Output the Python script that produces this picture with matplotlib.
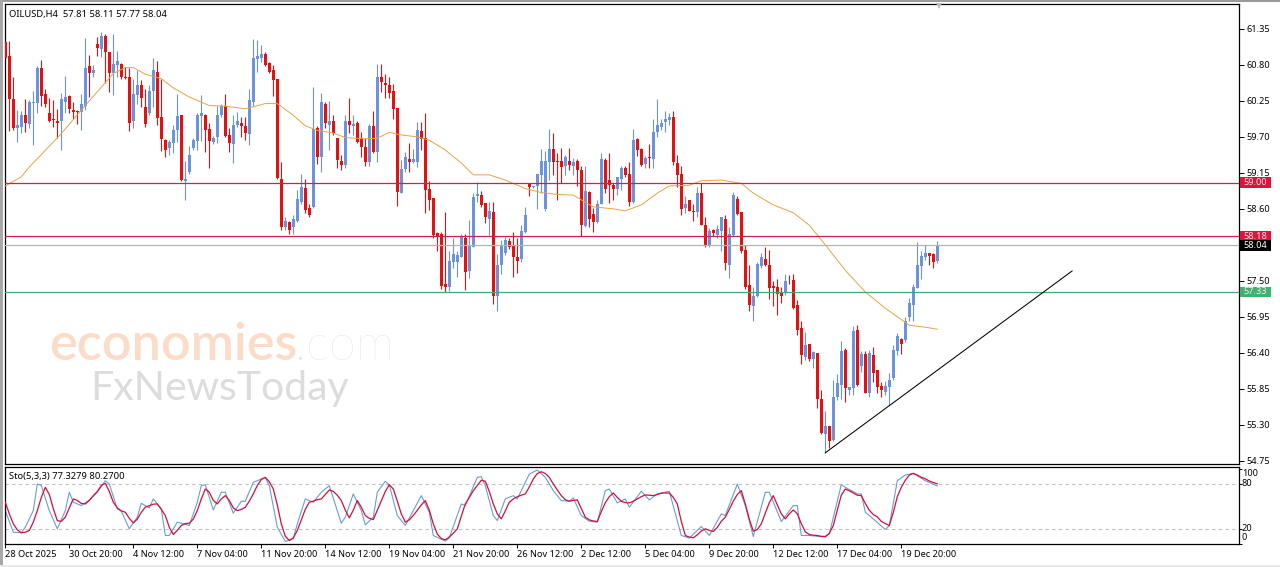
import numpy as np
import matplotlib
matplotlib.use("Agg")
import matplotlib.pyplot as plt
from matplotlib.patches import Rectangle
from matplotlib.transforms import blended_transform_factory

W, H = 1280, 567

# R = down candle, B = up candle
dirs = ("RRRBBRBBBR" "RRRRBBRRRB" "BRBRBRRBBR" "RRBBRRBBRR" "RBBBRBBBBB" "RRBBBRRBBR"
        "RBBBBRRRRR" "BRBBBRRBRB" "RBRRRBRBRR" "RBRBRRRRRB" "BRBBRRRRRR" "RBBBBRBBBR"
        "RBRBBBRRRB" "BRBBBBBRRR" "BRBRRBRRBB" "RRRBBRRBRR" "BRBBBBBRRR" "BRRBRRBRBB"
        "RBBRRRRBBB" "RRRRRBRRRR" "BRBRRBRBBB" "RBBRBRBRRR" "BBBBRBBBBB" "BRRB")

highs = [61.18,61.17,60.61,60.11,60.10,60.28,60.26,60.40,60.79,60.87,
         60.44,60.30,60.26,60.13,60.37,60.63,60.34,60.24,60.11,60.36,
         61.21,60.95,60.80,61.23,61.30,61.28,61.00,61.28,61.01,60.83,
         60.77,60.75,60.59,60.73,60.57,60.44,60.49,60.90,60.86,60.59,
         59.67,59.65,59.88,60.35,60.04,59.33,59.56,59.69,60.07,60.34,
         60.05,59.91,59.72,60.18,60.21,60.35,59.83,60.03,60.08,60.00,
         60.01,60.43,61.20,61.18,61.10,61.00,60.85,60.80,60.59,59.32,
         58.48,58.42,58.50,58.89,59.13,59.06,58.68,60.47,59.87,60.37,
         60.23,60.25,60.03,59.68,59.42,60.04,60.29,60.03,59.94,59.78,
         59.68,59.90,60.09,60.82,60.82,60.66,60.62,60.51,60.14,59.35,
         59.47,59.60,59.51,59.93,59.93,60.06,59.02,58.76,58.24,58.25,
         58.55,57.95,58.15,57.95,58.21,58.22,58.43,58.84,59.01,58.87,
         58.69,58.70,58.70,57.91,58.12,58.17,58.15,58.24,58.15,58.35,
         58.63,58.98,58.95,59.14,59.51,59.48,59.82,59.76,59.45,59.53,
         59.43,59.53,59.37,59.36,59.26,59.26,58.88,58.61,58.73,59.45,
         59.37,59.45,58.99,59.09,59.25,59.25,59.32,59.82,59.69,59.53,
         59.41,59.59,59.98,60.28,59.98,60.10,60.06,60.09,59.42,59.25,
         58.80,58.73,58.68,58.94,58.99,58.47,58.30,58.29,58.35,58.48,
         58.50,58.33,58.86,58.79,58.55,58.04,57.74,57.41,57.78,57.93,
         58.01,57.97,57.50,57.52,57.41,57.60,57.59,57.60,57.21,56.88,
         56.72,56.53,56.42,56.40,55.83,55.51,55.28,55.98,56.07,56.58,
         56.47,55.88,56.81,56.83,56.43,56.42,56.44,56.49,56.13,55.96,
         55.97,56.09,56.52,56.70,56.62,56.95,57.23,57.45,58.09,57.95,
         58.05,57.93,57.92,58.11]

tops = [61.15,60.93,60.28,59.88,60.03,60.03,60.23,60.24,60.75,60.75,
        60.35,60.06,59.97,59.95,60.28,60.31,60.33,60.11,60.10,60.21,
        60.76,60.78,60.72,61.12,61.24,61.25,61.00,60.82,60.86,60.81,
        60.62,60.61,60.35,60.49,60.49,60.16,60.40,60.72,60.70,60.00,
        59.66,59.62,59.80,60.02,60.04,59.06,59.42,59.65,60.03,60.07,
        60.04,59.82,59.69,60.04,60.17,60.17,59.73,59.88,59.94,59.91,
        59.86,60.26,60.91,60.93,60.97,60.97,60.83,60.72,60.58,59.06,
        58.42,58.40,58.44,58.75,58.93,58.92,58.61,59.82,59.83,60.23,
        60.21,59.94,59.94,59.68,59.33,59.94,59.94,59.89,59.92,59.68,
        59.55,59.87,59.86,60.61,60.61,60.53,60.49,60.40,60.14,59.21,
        59.39,59.36,59.36,59.81,59.79,59.69,58.90,58.76,58.23,58.22,
        57.45,57.80,57.91,57.89,58.19,58.16,58.04,58.78,58.83,58.81,
        58.69,58.57,58.55,57.74,58.05,58.12,58.11,58.04,57.87,58.26,
        58.50,58.98,58.95,59.14,59.33,59.33,59.52,59.52,59.33,59.33,
        59.39,59.33,59.32,59.33,59.19,58.87,58.86,58.52,58.68,59.36,
        59.35,59.04,58.97,59.09,59.23,59.23,59.14,59.65,59.67,59.51,
        59.37,59.39,59.77,59.88,59.92,59.97,60.00,60.00,59.30,59.13,
        58.67,58.73,58.57,58.85,58.84,58.35,58.26,58.28,58.29,58.47,
        58.44,58.22,58.81,58.75,58.55,57.97,57.44,57.27,57.76,57.87,
        57.84,57.74,57.42,57.41,57.31,57.50,57.51,57.51,57.13,56.78,
        56.52,56.53,56.41,56.40,55.69,55.28,55.28,55.72,55.93,56.43,
        56.44,55.87,56.73,56.75,56.38,56.38,56.39,56.37,56.13,55.89,
        55.89,55.99,56.44,56.65,56.61,56.89,57.16,57.41,57.74,57.88,
        57.92,57.92,57.91,58.04]

bottoms = [60.90,60.28,59.84,59.83,59.85,59.91,59.89,60.22,60.22,60.32,
           60.21,59.94,59.96,59.92,59.94,60.24,60.12,60.08,60.08,60.08,
           60.18,60.68,60.68,61.06,61.04,61.00,60.68,60.68,60.80,60.61,
           60.60,59.92,59.94,60.34,60.29,59.90,60.06,60.40,59.99,59.67,
           59.50,59.53,59.61,59.80,59.04,59.02,59.17,59.53,59.63,60.02,
           59.80,59.64,59.62,59.70,60.03,59.71,59.61,59.59,59.88,59.86,
           59.76,59.75,60.24,60.89,60.91,60.80,60.70,60.57,59.07,58.32,
           58.32,58.27,58.32,58.42,58.71,58.58,58.50,58.63,59.39,59.40,
           59.91,59.88,59.76,59.34,59.27,59.27,59.88,59.87,59.62,59.54,
           59.32,59.31,59.47,59.47,60.54,60.49,60.37,60.13,58.86,58.85,
           59.21,59.32,59.32,59.32,59.67,58.89,58.73,58.20,58.18,57.42,
           57.40,57.40,57.79,57.79,57.87,57.64,57.65,58.02,58.79,58.66,
           58.47,58.45,57.26,57.27,57.74,57.93,58.01,57.87,57.80,57.83,
           58.24,58.94,58.93,58.95,59.12,58.60,59.32,59.32,59.31,59.24,
           59.26,59.27,59.26,59.19,58.35,58.34,58.45,58.40,58.40,58.68,
           58.90,58.96,58.91,58.90,59.06,59.12,58.71,58.70,59.50,59.27,
           59.29,59.37,59.36,59.77,59.85,59.93,59.96,59.31,59.12,58.60,
           58.61,58.57,58.55,58.55,58.36,58.05,58.04,58.23,58.20,58.26,
           57.77,57.74,58.20,58.52,57.96,57.41,57.13,57.12,57.27,57.72,
           57.74,57.39,57.39,57.30,57.27,57.31,57.51,57.09,56.75,56.36,
           56.34,56.30,56.31,55.69,55.17,55.16,55.05,55.06,55.72,55.91,
           55.86,55.83,55.86,55.91,56.20,55.79,55.79,56.09,55.87,55.83,
           55.80,55.87,56.01,56.43,56.53,56.60,56.95,57.13,57.39,57.72,
           57.87,57.88,57.79,57.81]

lows = [60.88,59.79,59.81,59.62,59.76,59.78,59.84,59.57,60.07,60.18,
        60.15,59.93,59.85,59.69,59.50,60.06,60.06,59.98,59.89,59.81,
        60.11,60.31,60.61,60.93,60.92,60.53,60.39,60.34,60.62,60.59,
        60.58,59.79,59.83,60.20,60.16,59.85,60.03,60.16,59.88,59.49,
        59.39,59.43,59.45,59.62,59.03,58.73,59.14,59.50,59.50,59.64,
        59.47,59.22,59.59,59.60,60.01,59.70,59.47,59.30,59.85,59.70,
        59.65,59.57,60.18,60.69,60.85,60.79,60.68,60.32,59.05,58.27,
        58.27,58.22,58.22,58.40,58.68,58.53,58.47,58.62,59.29,59.17,
        59.83,59.50,59.73,59.22,59.20,59.22,59.76,59.73,59.60,59.40,
        59.26,59.25,59.45,59.32,60.39,60.29,60.29,59.98,58.65,58.84,
        59.17,59.17,59.30,59.24,59.50,58.54,58.59,58.15,57.96,57.38,
        57.33,57.34,57.69,57.56,57.86,57.36,57.54,58.01,58.70,58.63,
        58.38,58.20,57.14,57.04,57.61,57.89,57.99,57.56,57.62,57.78,
        58.23,58.80,58.92,58.60,58.85,58.57,59.04,59.12,58.73,59.00,
        59.12,59.19,59.12,58.95,58.19,58.33,58.33,58.24,58.38,58.68,
        58.84,58.69,58.73,58.81,58.89,59.09,58.64,58.69,59.41,59.25,
        59.23,59.23,59.22,59.70,59.81,59.77,59.88,59.27,58.94,58.50,
        58.54,58.56,58.42,58.47,58.35,58.01,58.01,58.19,58.15,57.95,
        57.66,57.54,58.18,58.50,57.93,57.37,57.04,56.89,57.25,57.69,
        57.72,57.22,57.11,56.98,57.16,57.28,57.45,57.07,56.67,56.23,
        56.29,56.28,56.17,55.55,55.16,54.87,54.95,55.05,55.68,55.70,
        55.64,55.75,55.75,55.89,56.11,55.78,55.72,55.96,55.79,55.73,
        55.75,55.60,55.98,56.37,56.38,56.57,56.88,56.88,57.39,57.53,
        57.82,57.74,57.70,57.77]

# moving average, read at these bars
ma_bars = [0,4,6,9,14,19,24,27,30,32,35,39,42,46,51,55,60,62,65,68,72,75,78,
           82,85,90,93,96,99,103,106,110,114,117,121,125,130,134,138,142,147,152,155,159,
           163,166,171,174,179,184,187,192,197,201,205,210,215,220,226,230,233]
ma_vals = [58.95,59.09,59.24,59.43,59.75,60.11,60.46,60.67,60.76,60.76,60.66,60.59,60.45,60.31,60.18,60.17,60.13,60.16,60.21,60.21,60.03,59.87,59.80,
           59.76,59.69,59.67,59.68,59.77,59.73,59.70,59.65,59.50,59.30,59.12,59.12,59.04,58.91,58.85,58.82,58.81,58.63,58.60,58.57,58.66,
           58.84,58.95,58.96,59.03,59.04,58.99,58.84,58.66,58.54,58.35,58.05,57.66,57.33,57.08,56.82,56.79,56.76]

# stochastic %K
k_bars = [0,2,4,5,7,8,9,11,13,15,16,17,19,21,23,25,26,28,29,31,33,34,36,37,39,40,41,43,46,48,49,50,52,54,55,57,59,60,62,65,66,68,70,72,73,75,77,79,81,84,85,87,89,90,92,93,95,96,98,100,104,106,107,110,111,114,115,118,
          119,120,122,123,125,127,128,131,133,135,137,139,141,142,144,146,148,150,151,153,155,156,159,161,163,166,169,171,174,176,179,180,183,185,187,190,191,194,197,198,199,201,205,206,209,210,213,214,215,217,220,221,223,225,227,230,233]
k_vals = [44.4,15.5,14.7,22.2,44.4,80,77.8,44.4,20,44.4,68.9,55.6,51.1,58.7,68.9,84.4,80,46.7,43.6,20,35.6,54.2,48,60,46.7,11.1,11.1,28.9,24.4,55.6,77.8,79,45.3,68.9,68.9,40.9,56.9,56.9,82.2,88.9,77.8,22.2,3.1,6.7,26.7,60,55.6,68.9,77.8,27.5,35.6,66.7,44.4,25.3,35.6,68.9,83.6,79,37.8,24.4,64.4,42.2,11.1,3.5,8,53.3,51.1,88.9,
          89.8,77.8,37.8,31.1,60,64.4,60,93.3,98.7,88.9,71.1,57.8,56.9,61.3,37.8,30.2,28.9,71.1,73.3,54.7,60,48.9,70.2,58.7,66.7,70.2,11.1,7.6,23.1,11.1,40,37.8,80,51.1,9.8,68.9,68.9,29.8,51.1,51.1,11.1,11.1,8.9,13.3,79.1,75.6,66.7,66.7,42.2,33.3,19.1,24.4,84.4,92,94.2,84.4,77.33]

# stochastic %D, one value per bar
d_vals = [55.6,40,26.7,18.7,14.7,15.5,17.8,29,44.4,62,
          75.6,66,47,31,30,35.6,48,60,58,54,
          53.3,58,64.4,70,78,80.9,70,55.6,48,44,
          42.2,34,28,33,42,49,51,53,53.3,46,
          37.8,22,12.4,18,24.4,27,27.5,33,44.4,60,
          73.3,69,58,53.3,60,64.4,58,48,44.4,46,
          48.9,57,66.7,78,86,88.9,83,73.3,52,26.7,
          10,4.4,8,17.8,32,46,55.6,57,59,60,
          66,72,70,65,57.8,45,34.7,45,57.8,49,
          37.8,34,32.4,45,57.8,70,79,73.3,57,40,
          28.9,32,37.8,45,52,57.8,45,26.7,13,7,
          5.3,9,14,20,37,53.3,62,71,78,85,
          83.6,70,53.3,40,33.3,44,55.6,60,63,65,
          66.7,76,86.7,94,96.4,94,88.9,80,72,64.4,
          59,56.9,58,58.7,47,35.6,32,30.5,29.8,43,
          55,63,68,62,56.9,55,54.7,57,60,63,
          65.3,65,64.4,66,67.6,68,68,62,53.3,30,
          11.1,9,8,12,17,20,18,16.4,22,30,
          35.6,46,57,66,71.1,53.3,33,16.9,19,26.7,
          41,55,64.4,52,40,33.3,40,45.3,40,27,
          16,12.4,11.5,11,10,9.8,14,24.4,45,65,
          73.3,71,68,65,64.4,54,45,39.1,36,30,
          27,24.4,42,63,75.6,85,92,94.2,92,89,
          87,84,82,80.27]

price_ticks = [61.35,60.80,60.25,59.70,59.15,58.60,57.50,56.95,56.40,55.85,55.30,54.75]
date_ticks = list(range(0, 225, 16))
date_labels = ["28 Oct 2025","30 Oct 20:00","4 Nov 12:00","7 Nov 04:00","11 Nov 20:00",
               "14 Nov 12:00","19 Nov 04:00","21 Nov 20:00","26 Nov 12:00","2 Dec 12:00",
               "5 Dec 04:00","9 Dec 20:00","12 Dec 12:00","17 Dec 04:00","19 Dec 20:00"]
level_prices = [59.00, 58.18, 58.04, 57.33]
level_colors = ["#C8224E", "#C8224E", "#B4B4B4", "#3FA97A"]
badge_colors = ["#DC143C", "#DC143C", "#000000", "#3CB371"]
trend_bars = [205, 266.7]
trend_vals = [54.87, 57.65]
sto_levels = [20, 80]

plt.rcParams['font.family'] = ['Noto Sans', 'DejaVu Sans']
plt.rcParams['font.size'] = 6.6

BLUE = "#6C94DC"
RED = "#E01212"

fig = plt.figure(figsize=(W / 100, H / 100), dpi=100)
fig.patch.set_facecolor("white")


def px_axes(x0, y0, x1, y1):
    return fig.add_axes([x0 / W, 1 - y1 / H, (x1 - x0) / W, (y1 - y0) / H])


# window chrome
fig.add_artist(Rectangle((0, 1 - 2 / H), 1, 2 / H, transform=fig.transFigure, color="#9A9A9A", lw=0))
fig.add_artist(Rectangle((0, 0), 2.5 / W, 1, transform=fig.transFigure, color="#A8A8A8", lw=0))
fig.add_artist(Rectangle((0, 0), 1, 2 / H, transform=fig.transFigure, color="#E8E8E8", lw=0))

ax = px_axes(5, 4, 1238.5, 464.3)
sub = px_axes(5, 466.8, 1238.5, 544)

n = np.arange(len(dirs))
up = np.array([c == "B" for c in dirs])
highs, lows = np.array(highs), np.array(lows)
tops, bottoms = np.array(tops), np.array(bottoms)
colors = [BLUE if u else RED for u in up]

# watermark goes under the candles
fig.text(49 / W, 1 - 360 / H, "economies", color="#FBDCC8", fontsize=37.5, fontweight="semibold",
         family="Lato", va="baseline", ha="left", zorder=0)
fig.text(295 / W, 1 - 360 / H, ".com", color="#E4E4E4", fontsize=35, fontweight="light",
         family="Lato", va="baseline", ha="left", zorder=0)
fig.text(90 / W, 1 - 400 / H, "FxNewsToday", color="#DCDCDC", fontsize=29.5,
         family="Lato", va="baseline", ha="left", zorder=0)
ax.patch.set_alpha(0)
sub.patch.set_alpha(0)

ax.vlines(n, lows, highs, colors=colors, linewidth=0.8, zorder=2)
ax.bar(n, tops - bottoms, bottom=bottoms, width=0.82, color=colors, linewidth=0, zorder=3)
ax.plot(ma_bars, ma_vals, color="#E6A445", lw=0.7, zorder=4)

for p, c in zip(level_prices, level_colors):
    ax.axhline(p, color=c, lw=0.9, zorder=5)
ax.plot(trend_bars, trend_vals, color="black", lw=0.75, zorder=6)

x_left = (5 - 5.3) / 4
x_right = (1238.5 - 5.3) / 4
ax.set_xlim(x_left, x_right)
ax.set_ylim(61.35 - (464.3 - 29) / 65.4, 61.35 + 25 / 65.4)
ax.set_xticks([])
ax.yaxis.tick_right()
ax.set_yticks(price_ticks)
ax.set_yticklabels(["%.2f" % t for t in price_ticks])
ax.tick_params(axis="y", length=3.5, width=0.7, pad=2.5, labelsize=6.6)

# last-bar marker on the top edge
ax.plot([n[-1] + 0.5], [61.70], marker="v", ms=5, color="#BBBBBB", mew=0, clip_on=False, zorder=7)

ax.text(0.0035, 0.9865, "OILUSD,H4  57.81 58.11 57.77 58.04", transform=ax.transAxes,
        va="top", ha="left", fontsize=6.75, color="black")

# price badges
badge_tr = blended_transform_factory(ax.transAxes, ax.transData)
for p, c in zip(level_prices, badge_colors):
    ax.add_patch(Rectangle((1.0012, p - 5.3 / 65.4), 31 / 1233.5, 10.6 / 65.4, transform=badge_tr,
                           fc=c, ec="none", clip_on=False, zorder=8))
    ax.text(1.0036, p, "%.2f" % p, transform=badge_tr, va="center", ha="left", fontsize=6.6,
            color="white" if c == "#000000" else "#FFE8E8", zorder=9)

sub.plot(k_bars, k_vals, color="#6F9BD0", lw=0.8, zorder=2)
sub.plot(n, d_vals, color="#D0103C", lw=0.9, zorder=3)
for lv in sto_levels:
    sub.axhline(lv, color="#C0C0C0", lw=0.8, ls=(0, (3, 3)), zorder=1)
sub.set_xlim(x_left, x_right)
sub.set_ylim(-0.3, 103)
sub.yaxis.tick_right()
sub.set_yticks([0, 20, 80, 100])
sub.set_yticklabels([])
sub.tick_params(axis="y", length=2, width=0.7)
sub.set_xticks(date_ticks)
sub.set_xticklabels(date_labels, ha="left", fontsize=6.6)
sub.tick_params(axis="x", length=3, width=0.7, pad=1.5)
sub.text(0.0035, 0.93, "Sto(5,3,3) 77.3279 80.2700", transform=sub.transAxes,
         va="top", ha="left", fontsize=6.75, color="black")

# level labels sit clamped inside the panel, not on their ticks
for txt, ypx in [("100", 473), ("80", 483.7), ("20", 528.7), ("0", 537.7)]:
    fig.text(1242 / W, 1 - ypx / H, txt, va="center", ha="left", fontsize=6.6)

for a in (ax, sub):
    for s in a.spines.values():
        s.set_linewidth(0.9)
        s.set_color("black")

fig.savefig("out.png", dpi=100, facecolor="white")
